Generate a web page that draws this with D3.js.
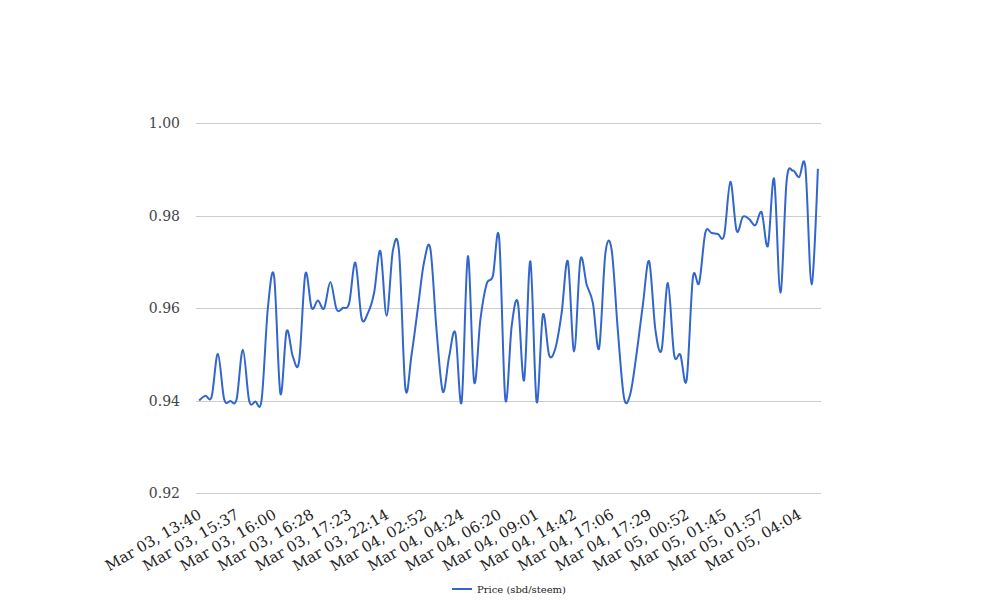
<!DOCTYPE html>
<html>
<head>
<meta charset="utf-8">
<script src="https://cdn.jsdelivr.net/npm/d3@7"></script>
<style>
  html, body { margin: 0; padding: 0; background: #fff; }
  svg { display: block; }
</style>
</head>
<body>
<svg id="chart" width="1008" height="616"></svg>
<script>
// ---- data ----
const seriesName = "Price (sbd/steem)";
const prices = [
  0.9400, 0.9410, 0.9408, 0.9501, 0.9403, 0.9399, 0.9403, 0.9510, 0.9400, 0.9398,
  0.9402, 0.9600, 0.9668, 0.9415, 0.9550, 0.9495, 0.9485, 0.9674, 0.9600, 0.9616,
  0.9599, 0.9656, 0.9597, 0.9600, 0.9610, 0.9698, 0.9578, 0.9589, 0.9633, 0.9723,
  0.9583, 0.9724, 0.9720, 0.9426, 0.9500, 0.9600, 0.9700, 0.9728, 0.9550, 0.9419,
  0.9495, 0.9546, 0.9397, 0.9712, 0.9440, 0.9575, 0.9652, 0.9669, 0.9752, 0.9402,
  0.9560, 0.9612, 0.9444, 0.9701, 0.9397, 0.9585, 0.9498, 0.9513, 0.9589, 0.9701,
  0.9506, 0.9704, 0.9651, 0.9611, 0.9513, 0.9718, 0.9726, 0.9550, 0.9405, 0.9415,
  0.9502, 0.9607, 0.9701, 0.9553, 0.9510, 0.9654, 0.9499, 0.9499, 0.9444, 0.9665,
  0.9654, 0.9763, 0.9762, 0.9760, 0.9757, 0.9873, 0.9767, 0.9797, 0.9792, 0.9779,
  0.9807, 0.9734, 0.9879, 0.9633, 0.9875, 0.9897, 0.9883, 0.9904, 0.9651, 0.9901
];
// category labels shown on the axis (every 6th point)
const tickLabels = [
  "Mar 03, 13:40", "Mar 03, 15:37", "Mar 03, 16:00", "Mar 03, 16:28", "Mar 03, 17:23",
  "Mar 03, 22:14", "Mar 04, 02:52", "Mar 04, 04:24", "Mar 04, 06:20", "Mar 04, 09:01",
  "Mar 04, 14:42", "Mar 04, 17:06", "Mar 04, 17:29", "Mar 05, 00:52", "Mar 05, 01:45",
  "Mar 05, 01:57", "Mar 05, 04:04"
];
const tickStep = 6;
const yTicks = [0.92, 0.94, 0.96, 0.98, 1.00];

// ---- layout ----
const area = { left: 196, right: 821, top: 123, bottom: 493 };
const svg = d3.select("#chart");
const font = "'DejaVu Serif', serif";

const x = d3.scalePoint()
  .domain(d3.range(prices.length))
  .range([area.left, area.right])
  .padding(0.5);

const y = d3.scaleLinear()
  .domain([0.92, 1.00])
  .range([area.bottom, area.top]);

// gridlines
svg.append("g")
  .selectAll("line")
  .data(yTicks)
  .join("line")
  .attr("x1", area.left).attr("x2", area.right)
  .attr("y1", d => Math.round(y(d)) + 0.5).attr("y2", d => Math.round(y(d)) + 0.5)
  .attr("stroke", "#cccccc").attr("stroke-width", 1);

// y labels
svg.append("g")
  .selectAll("text")
  .data(yTicks)
  .join("text")
  .attr("x", 180)
  .attr("y", d => y(d))
  .attr("dy", "0.36em")
  .attr("text-anchor", "end")
  .attr("font-family", font)
  .attr("font-size", 14)
  .attr("fill", "#444444")
  .text(d => d3.format(".2f")(d));

// x labels
const tickIdx = tickLabels.map((_, i) => i * tickStep);
svg.append("g")
  .selectAll("text")
  .data(tickIdx)
  .join("text")
  .attr("transform", d => `translate(${x(d) - 2},${508}) rotate(-30)`)
  .attr("text-anchor", "end")
  .attr("dy", "0.72em")
  .attr("font-family", font)
  .attr("font-size", 15)
  .attr("fill", "#222222")
  .text((d, i) => tickLabels[i]);

// line
const line = d3.line()
  .x((d, i) => x(i))
  .y(d => y(d))
  .curve(d3.curveCatmullRom.alpha(0));

svg.append("path")
  .datum(prices)
  .attr("d", line)
  .attr("fill", "none")
  .attr("stroke", "#3366cc")
  .attr("stroke-width", 2);

// legend
const lg = svg.append("g").attr("transform", "translate(452,589)");
lg.append("line").attr("x1", 0).attr("x2", 20).attr("y1", 0).attr("y2", 0)
  .attr("stroke", "#3366cc").attr("stroke-width", 2);
lg.append("text").attr("x", 25).attr("y", 0).attr("dy", "0.35em")
  .attr("font-family", font).attr("font-size", 10).attr("fill", "#222222")
  .text(seriesName);
</script>
</body>
</html>
